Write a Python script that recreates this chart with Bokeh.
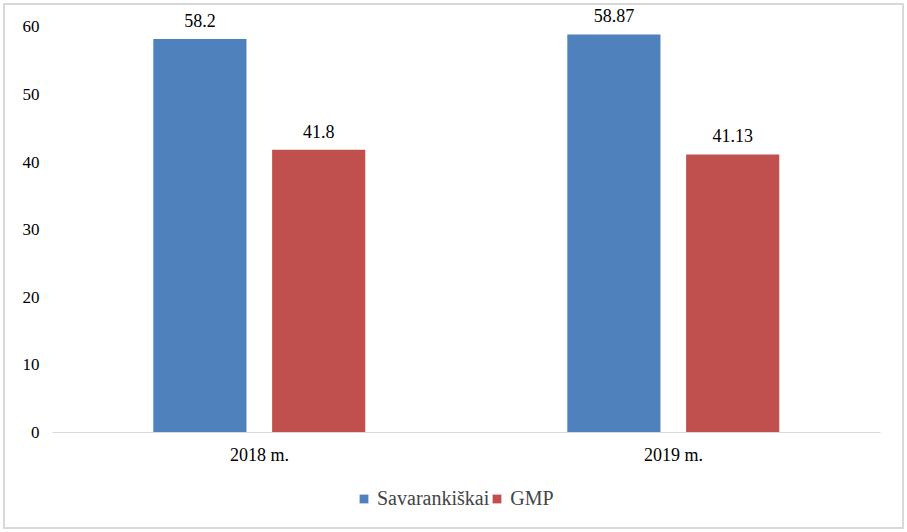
from bokeh.embed import file_html
from bokeh.layouts import column
from bokeh.models import ColumnDataSource, FactorRange, Range1d, LabelSet, Legend, LegendItem
from bokeh.plotting import figure
from bokeh.resources import INLINE
from bokeh.transform import dodge

years = ["2018 m.", "2019 m."]
savarankiskai = [58.2, 58.87]
gmp = [41.8, 41.13]
series_names = ["Savarankiškai", "GMP"]
y_ticks = [0, 10, 20, 30, 40, 50, 60]

FONT = "Liberation Serif"
BLUE = "#4F81BD"
RED = "#C0504D"

src = ColumnDataSource(data=dict(
    years=years,
    sav=savarankiskai,
    gmp=gmp,
    sav_lbl=[str(v) for v in savarankiskai],
    gmp_lbl=[str(v) for v in gmp],
))
x_range = FactorRange(*years, range_padding=0)

p = figure(x_range=x_range, y_range=Range1d(0, 63),
           frame_width=828, frame_height=426, output_backend="svg", toolbar_location=None,
           min_border_left=47, min_border_right=22, min_border_top=1, min_border_bottom=43)
p.outline_line_color = None
p.xgrid.grid_line_color = None
p.ygrid.grid_line_color = None

r1 = p.vbar(x=dodge("years", -0.144, range=x_range), top="sav", width=0.225,
            source=src, fill_color=BLUE, line_color=None)
r2 = p.vbar(x=dodge("years", 0.143, range=x_range), top="gmp", width=0.225,
            source=src, fill_color=RED, line_color=None)

for col, off in (("sav", -0.144), ("gmp", 0.143)):
    p.add_layout(LabelSet(x=dodge("years", off, range=x_range), y=col, text=col + "_lbl",
                          source=src, text_align="center", text_baseline="alphabetic",
                          y_offset=12, text_font=FONT, text_font_size="18px",
                          text_color="#000000"))

p.yaxis.ticker = y_ticks
p.yaxis.axis_line_color = None
p.yaxis.major_tick_line_color = None
p.yaxis.minor_tick_line_color = None
p.yaxis.major_label_text_font = FONT
p.yaxis.major_label_text_font_size = "17px"
p.yaxis.major_label_text_color = "#000000"
p.yaxis.major_label_standoff = 7

p.xaxis.axis_line_color = "#d9d9d9"
p.xaxis.major_tick_line_color = None
p.xaxis.minor_tick_line_color = None
p.xaxis.major_label_text_font = FONT
p.xaxis.major_label_text_font_size = "18px"
p.xaxis.major_label_text_color = "#000000"
p.xaxis.major_label_standoff = 6

# legend strip under the chart; its bars fall outside the y range, only the legend shows
pl = figure(x_range=x_range, y_range=Range1d(100, 200), width=897, height=52,
            output_backend="svg", toolbar_location=None, x_axis_type=None, y_axis_type=None,
            min_border=0)
pl.outline_line_color = None
l1 = pl.vbar(x=dodge("years", -0.144, range=x_range), top="sav", width=0.225,
             source=src, fill_color=BLUE, line_color=None)
l2 = pl.vbar(x=dodge("years", 0.143, range=x_range), top="gmp", width=0.225,
             source=src, fill_color=RED, line_color=None)
legend = Legend(items=[LegendItem(label=series_names[0], renderers=[l1]),
                       LegendItem(label=series_names[1], renderers=[l2])],
                orientation="horizontal", location=(306, 17),
                label_text_font=FONT, label_text_font_size="20px",
                glyph_width=11, glyph_height=11, spacing=2, label_standoff=8,
                border_line_color=None, background_fill_alpha=0, padding=0, margin=0)
pl.add_layout(legend, "center")

page = column(p, pl, spacing=0,
              styles={"margin": "3px", "border": "2px solid #d9d9d9", "background": "white"})

open("out.html", "w").write(file_html(page, INLINE))
